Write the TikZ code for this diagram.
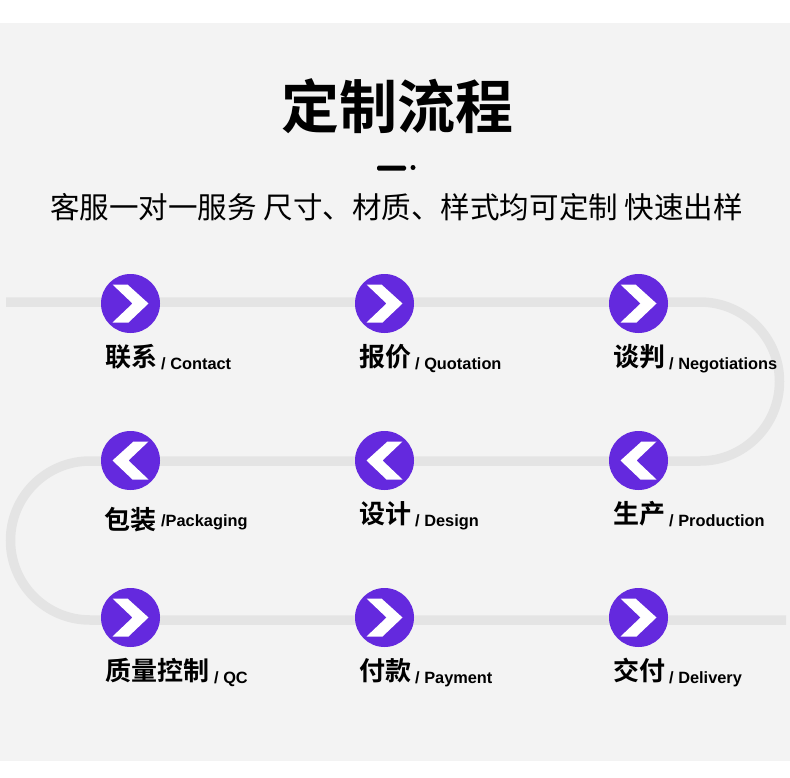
\documentclass[tikz,border=0pt]{standalone}
\usepackage{fontspec}
\setmainfont{Liberation Sans}
\newfontfamily\cjkb{Noto Sans CJK SC Bold}
\newfontfamily\cjkr{Noto Sans CJK SC}
\definecolor{bgc}{HTML}{F3F3F3}
\definecolor{trk}{HTML}{E4E4E4}
\definecolor{pur}{HTML}{6429DE}
\tikzset{
  x=1pt,y=-1pt,
  stepdot/.style={circle,fill=pur,draw=none,minimum size=59pt,inner sep=0pt},
  zh/.style={anchor=base west,inner sep=0pt,font={\cjkb\fontsize{26}{27}\selectfont}},
  en/.style={anchor=base west,inner sep=0pt,font={\bfseries\fontsize{16.35}{18}\selectfont}},
  track/.style={draw=trk,line width=9.5pt,line cap=butt}
}
\newcommand{\chevR}[1]{\fill[white] ([shift={(-18,-19)}]#1.center) -- ([shift={(-3,-19)}]#1.center) -- ([shift={(18,0)}]#1.center) -- ([shift={(-2,19)}]#1.center) -- ([shift={(-18,19)}]#1.center) -- ([shift={(2,0)}]#1.center) -- cycle;}
\newcommand{\chevL}[1]{\fill[white] ([shift={(18,-19)}]#1.center) -- ([shift={(3,-19)}]#1.center) -- ([shift={(-18,0)}]#1.center) -- ([shift={(2,19)}]#1.center) -- ([shift={(18,19)}]#1.center) -- ([shift={(-2,0)}]#1.center) -- cycle;}
\begin{document}
\begin{tikzpicture}
\useasboundingbox (0,0) rectangle (790,777);
\fill[bgc] (0,23) rectangle (790,761);
% track
\coordinate (ts) at (6,302);
\coordinate (te) at (786,620);
\coordinate (r1) at (700,302);
\coordinate (l1) at (90,461);
\draw[track] (ts) -- (r1) arc[start angle=-90,end angle=90,radius=79.5]
  -- (l1) arc[start angle=-90,end angle=-270,radius=79.5] -- (te);
% nodes
\node[stepdot] (n1) at (130.5,303.5) {};
\node[stepdot] (n2) at (384.5,303.5) {};
\node[stepdot] (n3) at (638.5,303.5) {};
\node[stepdot] (n4) at (130.5,460.5) {};
\node[stepdot] (n5) at (384.5,460.5) {};
\node[stepdot] (n6) at (638.5,460.5) {};
\node[stepdot] (n7) at (130.5,617.5) {};
\node[stepdot] (n8) at (384.5,617.5) {};
\node[stepdot] (n9) at (638.5,617.5) {};
\chevR{n1}\chevR{n2}\chevR{n3}
\chevL{n4}\chevL{n5}\chevL{n6}
\chevR{n7}\chevR{n8}\chevR{n9}
% title
\node[inner sep=0pt,font={\cjkb\fontsize{58}{60}\selectfont}] (title) at (397,106) {定制流程};
\fill[black,rounded corners=1.5pt] (377,165.5) rectangle (406,170.5);
\fill[black] (413,167.5) circle[radius=2.5];
\node[inner sep=0pt,font={\cjkr\fontsize{29.55}{31}\selectfont}] (sub) at (396.5,207) {客服一对一服务 尺寸、材质、样式均可定制 快速出样};
% labels
\node[zh] (z1) at (105.5,366) {联系};
\node[en] (e1) at (161,369) {/ Contact};
\node[zh] (z2) at (359.5,366) {报价};
\node[en] (e2) at (415,369) {/ Quotation};
\node[zh] (z3) at (613.5,366) {谈判};
\node[en] (e3) at (669,369) {/ Negotiations};
\node[zh] (z4) at (104.5,529) {包装};
\node[en] (e4) at (161,526) {/Packaging};
\node[zh] (z5) at (359.5,523) {设计};
\node[en] (e5) at (415,526) {/ Design};
\node[zh] (z6) at (613.5,523) {生产};
\node[en] (e6) at (669,526) {/ Production};
\node[zh] (z7) at (105.5,680) {质量控制};
\node[en] (e7) at (214,683) {/ QC};
\node[zh] (z8) at (359.5,680) {付款};
\node[en] (e8) at (415,683) {/ Payment};
\node[zh] (z9) at (613.5,680) {交付};
\node[en] (e9) at (669,683) {/ Delivery};
\end{tikzpicture}
\end{document}
